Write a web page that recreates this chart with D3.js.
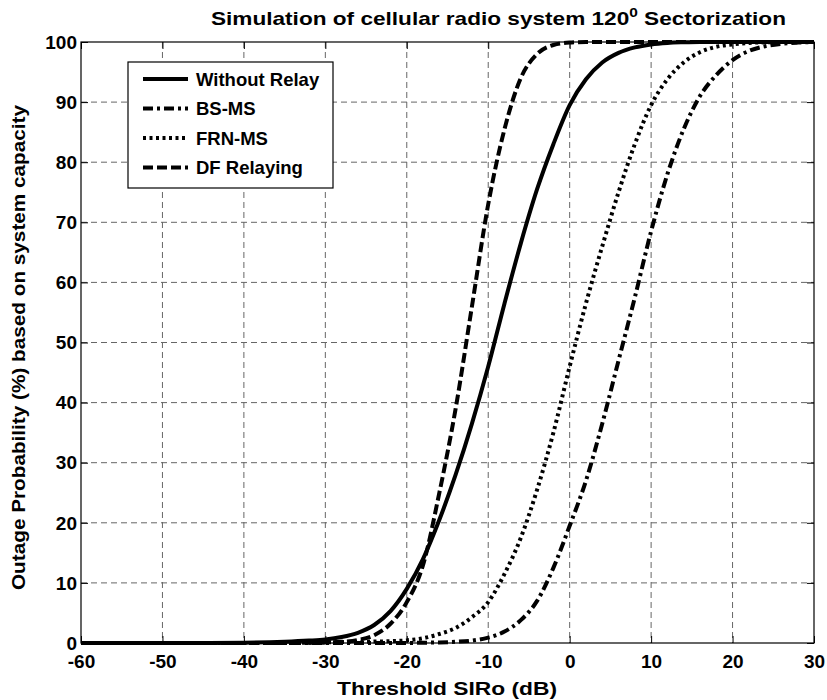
<!DOCTYPE html>
<html>
<head>
<meta charset="utf-8">
<script src="https://cdn.jsdelivr.net/npm/d3@7"></script>
<style>
  body { margin: 0; background: #fff; }
  text { font-family: "Liberation Sans", Arial, sans-serif; font-weight: bold; fill: #000; }
</style>
</head>
<body>
<div id="canvas"></div>
<script>
// threshold SIRo values (dB) shared by all curves
var sir = [-60, -50, -40, -35, -32, -30, -28, -26, -24, -22, -20, -18, -16, -14, -12, -10,
           -8, -6, -4, -2, 0, 2, 4, 6, 8, 10, 12, 14, 16, 18, 20, 22, 24, 26, 28, 30];
var withoutRelay = [0, 0, 0.05, 0.2, 0.4, 0.6, 1.0, 1.7, 3.0, 5.3, 9.0, 14, 20.5, 28, 36.5, 46,
                    56.5, 66.5, 75.5, 83, 89.5, 93.8, 96.6, 98.2, 99.1, 99.6, 99.85, 99.95, 100, 100, 100, 100, 100, 100, 100, 100];
var bsMs = [0, 0, 0, 0, 0, 0, 0, 0, 0, 0, 0, 0.05, 0.1, 0.2, 0.4, 0.9,
            1.9, 3.8, 7, 12.5, 19.5, 27, 36.5, 47, 57.5, 68.5, 78, 85.5, 91, 94.5, 97, 98.5, 99.3, 99.7, 99.9, 100];
var frnMs = [0, 0, 0, 0, 0.05, 0.1, 0.15, 0.2, 0.25, 0.3, 0.45, 0.8, 1.5, 2.5, 4.3, 6.8,
             11.5, 17.5, 25.5, 35, 46, 56.5, 66, 75, 83, 89.5, 93.8, 96.6, 98.3, 99.2, 99.6, 99.85, 99.95, 100, 100, 100];
var dfRelaying = [0, 0, 0, 0, 0.05, 0.1, 0.2, 0.5, 1.3, 3.2, 6.8, 13, 25, 39, 56, 73,
                  85.5, 94, 98, 99.5, 99.9, 100, 100, 100, 100, 100, 100, 100, 100, 100, 100, 100, 100, 100, 100, 100];

var seriesNames = ['Without Relay', 'BS-MS', 'FRN-MS', 'DF Relaying'];
var seriesValues = [withoutRelay, bsMs, frnMs, dfRelaying];
var seriesDash = [null, '10,4,3,4', '3,3.5', '10,4'];

var xTicks = [-60, -50, -40, -30, -20, -10, 0, 10, 20, 30];
var yTicks = [0, 10, 20, 30, 40, 50, 60, 70, 80, 90, 100];

window.onload = (function () {
    var W = 827, H = 700;
    var left = 81, right = 814, top = 42, bottom = 643;

    var svg = d3.select('#canvas').append('svg')
        .attr('width', W).attr('height', H);

    var x = d3.scaleLinear().domain([-60, 30]).range([left, right]);
    var y = d3.scaleLinear().domain([0, 100]).range([bottom, top]);
    // plain hyphen for negatives, as in the original
    var plain = function (d) { return String(d); };

    // dashed grid
    var grid = svg.append('g').attr('stroke', '#666').attr('stroke-width', 1)
        .attr('stroke-dasharray', '6,4');
    grid.selectAll('.gx').data(xTicks.slice(1, -1)).enter().append('line')
        .attr('x1', function (d) { return x(d); }).attr('x2', function (d) { return x(d); })
        .attr('y1', top).attr('y2', bottom);
    grid.selectAll('.gy').data(yTicks.slice(1, -1)).enter().append('line')
        .attr('y1', function (d) { return y(d); }).attr('y2', function (d) { return y(d); })
        .attr('x1', left).attr('x2', right);

    // axes with inward ticks, like the original
    var xAxis = svg.append('g').attr('transform', 'translate(0,' + bottom + ')')
        .call(d3.axisBottom(x).tickValues(xTicks).tickFormat(plain)
            .tickSizeInner(-7).tickSizeOuter(0).tickPadding(12));
    var xTop = svg.append('g').attr('transform', 'translate(0,' + top + ')')
        .call(d3.axisTop(x).tickValues(xTicks).tickSizeInner(-7).tickSizeOuter(0).tickFormat(''));
    var yAxis = svg.append('g').attr('transform', 'translate(' + left + ',0)')
        .call(d3.axisLeft(y).tickValues(yTicks).tickFormat(plain)
            .tickSizeInner(-7).tickSizeOuter(0).tickPadding(4));
    var yRight = svg.append('g').attr('transform', 'translate(' + right + ',0)')
        .call(d3.axisRight(y).tickValues(yTicks).tickSizeInner(-7).tickSizeOuter(0).tickFormat(''));
    [xAxis, xTop, yAxis, yRight].forEach(function (g) {
        g.select('.domain').remove();
        g.selectAll('line').attr('stroke', '#000');
        g.selectAll('text').attr('font-size', 19)
            .attr('font-family', '"Liberation Sans", Arial, sans-serif').attr('font-weight', 'bold');
    });
    yAxis.selectAll('text').attr('dy', '0.33em');

    // curves
    var line = d3.line()
        .x(function (d) { return x(d[0]); })
        .y(function (d) { return y(d[1]); })
        .curve(d3.curveMonotoneX);
    svg.append('g').selectAll('path').data(seriesValues).enter().append('path')
        .attr('d', function (vals) { return line(sir.map(function (s, i) { return [s, vals[i]]; })); })
        .attr('fill', 'none').attr('stroke', '#000').attr('stroke-width', 4)
        .attr('stroke-dasharray', function (d, i) { return seriesDash[i]; });

    // plot box
    svg.append('rect').attr('x', left).attr('y', top)
        .attr('width', right - left).attr('height', bottom - top)
        .attr('fill', 'none').attr('stroke', '#000').attr('stroke-width', 1.2);

    // legend
    var lg = svg.append('g');
    lg.append('rect').attr('x', 128).attr('y', 62).attr('width', 205).attr('height', 126)
        .attr('fill', '#fff').attr('stroke', '#000').attr('stroke-width', 1.2);
    var rows = lg.selectAll('.row').data(seriesNames).enter().append('g')
        .attr('transform', function (d, i) { return 'translate(0,' + (79 + i * 29.5) + ')'; });
    rows.append('line').attr('x1', 143).attr('x2', 188).attr('y1', 0).attr('y2', 0)
        .attr('stroke', '#000').attr('stroke-width', 4)
        .attr('stroke-dasharray', function (d, i) { return seriesDash[i]; });
    rows.append('text').attr('x', 196).attr('y', 0).attr('dy', '0.36em')
        .attr('font-size', 18.5).text(function (d) { return d; });

    // title and axis labels
    var title = svg.append('text').attr('x', 211).attr('y', 25)
        .attr('font-size', 19).attr('textLength', 575).attr('lengthAdjust', 'spacingAndGlyphs');
    title.append('tspan').text('Simulation of cellular radio system 120');
    title.append('tspan').attr('dy', -8).attr('font-size', 13).text('0');
    title.append('tspan').attr('dy', 8).text(' Sectorization');

    svg.append('text').attr('x', 337).attr('y', 695)
        .attr('font-size', 19).attr('textLength', 220).attr('lengthAdjust', 'spacingAndGlyphs')
        .text('Threshold SIRo (dB)');
    svg.append('text').attr('transform', 'translate(25,590) rotate(-90)')
        .attr('font-size', 19).attr('textLength', 485).attr('lengthAdjust', 'spacingAndGlyphs')
        .text('Outage Probability (%) based on system capacity');
}());
</script>
</body>
</html>
